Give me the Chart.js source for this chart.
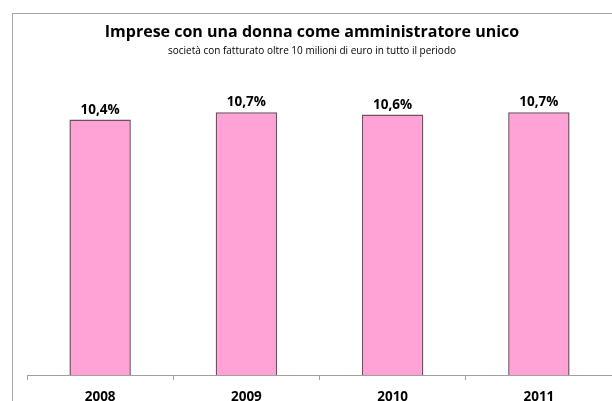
<!DOCTYPE html>
<html>
<head>
<meta charset="utf-8">
<script src="https://cdn.jsdelivr.net/npm/chart.js@4"></script>
<style>
  html,body{margin:0;padding:0;background:#fff;overflow:hidden;}
  #wrap{position:relative;width:612px;height:401px;overflow:hidden;}
  #frame{position:absolute;left:12px;top:13px;width:620px;height:400px;border-left:1px solid #a6a6a6;border-top:1px solid #a6a6a6;}
  #box{position:absolute;left:0;top:0;width:612px;height:420px;}
</style>
</head>
<body>
<div id="wrap">
  <div id="frame"></div>
  <div id="box"><canvas id="c" width="612" height="420"></canvas></div>
</div>
<script>
const $ = id => document.getElementById(id);

// ---------------- DATA ----------------
const years = ["2008","2009","2010","2011"];
const shares = [10.4, 10.7, 10.6, 10.7];

const FONT = "'Open Sans', 'DejaVu Sans', sans-serif";

// labels "10,4%" on top of the bars
const valueLabels = {
  id: "valueLabels",
  afterDatasetsDraw(chart){
    const ctx = chart.ctx;
    const meta = chart.getDatasetMeta(0);
    ctx.save();
    ctx.font = "bold 13.5px " + FONT;
    ctx.fillStyle = "#000";
    ctx.textAlign = "center";
    ctx.textBaseline = "alphabetic";
    meta.data.forEach((bar,i)=>{
      const txt = shares[i].toFixed(1).replace(".", ",") + "%";
      ctx.fillText(txt, bar.x, bar.y - 6);
    });
    ctx.restore();
  }
};

new Chart($("c").getContext("2d"), {
  type: "bar",
  data: {
    labels: years,
    datasets: [{
      data: shares,
      backgroundColor: "#ffa3d6",
      borderColor: "#6e5060",
      borderWidth: 1.5,
      barPercentage: 0.42,
      categoryPercentage: 1
    }]
  },
  options: {
    responsive: false,
    animation: false,
    layout: { padding: { left: 12, right: 0, top: 0, bottom: 0 } },
    plugins: {
      legend: { display: false },
      tooltip: { enabled: false },
      title: {
        display: true,
        text: "Imprese con una donna come amministratore unico",
        color: "#000",
        font: { family: FONT, size: 16, weight: "bold" },
        padding: { top: 23, bottom: 0 }
      },
      subtitle: {
        display: true,
        text: "società con fatturato oltre 10 milioni di euro in tutto il periodo",
        color: "#000",
        font: { family: FONT, size: 10 },
        padding: { top: 3, bottom: 23 }
      }
    },
    scales: {
      x: {
        offset: true,
        grid: { display: true, drawOnChartArea: false, drawTicks: true, tickLength: 5, color: "#a0a0a0", offset: true },
        border: { display: true, color: "#a0a0a0", width: 1 },
        ticks: { color: "#000", font: { family: FONT, size: 13.5, weight: "bold" }, padding: 9, maxRotation: 0 },
        afterFit: s => { s.height = 45; }
      },
      y: {
        min: 0,
        max: 12,
        grid: { display: false },
        border: { display: false },
        ticks: { display: false },
        afterFit: s => { s.width = 15; }
      }
    }
  },
  plugins: [valueLabels]
});
</script>
</body>
</html>
